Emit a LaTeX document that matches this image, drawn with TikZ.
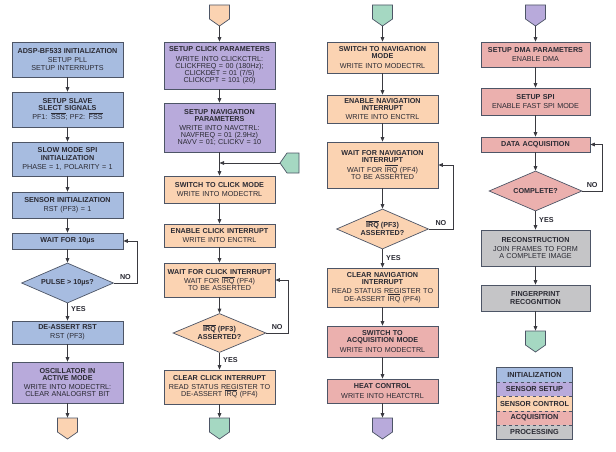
\documentclass[tikz,border=0pt]{standalone}
\usepackage{fontspec}
\setmainfont{Liberation Sans}
\usetikzlibrary{arrows.meta,positioning,shapes.geometric,shapes.symbols}
\definecolor{edge}{HTML}{4D5566}
\definecolor{ink}{HTML}{2A2A33}
\definecolor{wire}{HTML}{3A3A40}
\definecolor{iniC}{HTML}{A7BCE0}
\definecolor{setC}{HTML}{B8AADB}
\definecolor{ctlC}{HTML}{FBD3B2}
\definecolor{acqC}{HTML}{EBB0AE}
\definecolor{proC}{HTML}{C5C5C7}
\definecolor{conC}{HTML}{A5D8C2}
\newcommand{\ovl}[1]{\smash{$\overline{\mbox{#1}}$}}
\tikzset{
  box/.style={draw=edge, line width=0.7pt, minimum width=111pt, text width=107pt, align=center, inner sep=1pt, font=\fontsize{7.2}{7.2}\selectfont, text=ink},
  ini/.style={box, fill=iniC},
  setp/.style={box, fill=setC},
  ctl/.style={box, fill=ctlC},
  acq/.style={box, fill=acqC},
  pro/.style={box, fill=proC},
  dec/.style={diamond, aspect=2.3, draw=edge, line width=0.7pt, align=center, inner sep=0pt, font=\bfseries\fontsize{7.2}{7.6}\selectfont, text=ink},
  offpg/.style={signal, signal to=south, signal from=nowhere, signal pointer angle=110, draw=edge, line width=0.7pt, minimum width=20pt, minimum height=14pt, inner sep=0pt},
  offpgl/.style={signal, signal to=west, signal from=nowhere, signal pointer angle=110, draw=edge, line width=0.7pt, minimum width=19pt, minimum height=20pt, inner sep=0pt},
  arr/.style={-{Triangle[length=4.5pt,width=3.6pt]}, line width=0.8pt, draw=wire},
  lbl/.style={font=\bfseries\fontsize{7.2}{7}\selectfont, text=ink},
  legrow/.style={minimum width=75pt, minimum height=14.2pt, inner sep=0pt, font=\bfseries\fontsize{7.3}{7}\selectfont, text=ink},
}
\begin{document}
\begin{tikzpicture}[x=1pt,y=-1pt]
  \fill[white] (0,0) rectangle (616,452);
  \useasboundingbox (0,0) rectangle (616,452);

  % initialization
  \node[ini, minimum height=35pt] (adsp) at (67.5,59.5) {\textbf{ADSP-BF533 INITIALIZATION}\\[2pt]SETUP PLL\\SETUP INTERRUPTS};
  \node[ini, minimum height=35pt] (slave) at (67.5,109.5) {\textbf{SETUP SLAVE}\\\textbf{SLECT SIGNALS}\\[2pt]PF1: \ovl{SSS}; PF2: \ovl{FSS}};
  \node[ini, minimum height=34pt] (slow) at (67.5,159) {\textbf{SLOW MODE SPI}\\\textbf{INITIALIZATION}\\[2pt]PHASE = 1, POLARITY = 1};
  \node[ini, minimum height=26pt] (sens) at (67.5,205) {\textbf{SENSOR INITIALIZATION}\\[2pt]RST (PF3) = 1};
  \node[ini, minimum height=16pt] (wait1) at (67.5,241) {\textbf{WAIT FOR 10µs}};
  \node[dec, fill=iniC, minimum width=92pt, minimum height=40pt] (pulse) at (67.5,283) {PULSE > 10µs?};
  \node[ini, minimum height=23pt] (deas) at (67.5,332.5) {\textbf{DE-ASSERT RST}\\[2pt]RST (PF3)};
  \node[setp, minimum height=41pt] (osc) at (67.5,382.5) {\textbf{OSCILLATOR IN}\\\textbf{ACTIVE MODE}\\[2pt]WRITE INTO MODECTRL:\\CLEAR ANALOGRST BIT};
  \node[offpg, fill=ctlC] (c1out) at (67.5,425) {};
  \coordinate (r1) at (137,283);

  \draw[arr] (adsp) -- (slave);
  \draw[arr] (slave) -- (slow);
  \draw[arr] (slow) -- (sens);
  \draw[arr] (sens) -- (wait1);
  \draw[arr] (wait1) -- (pulse);
  \draw[arr] (pulse) -- node[lbl, right, pos=0.3]{YES} (deas);
  \draw[arr] (pulse.east) -- node[lbl, above]{NO} (r1) |- (wait1.east);
  \draw[arr] (deas) -- (osc);
  \draw[arr] (osc) -- (c1out);

  % sensor setup / click
  \node[offpg, fill=ctlC] (c2in) at (219.5,12) {};
  \node[setp, minimum height=47pt] (clk) at (219.5,65.5) {\textbf{SETUP CLICK PARAMETERS}\\[2pt]WRITE INTO CLICKCTRL:\\CLICKFREQ = 00 (180Hz);\\CLICKDET = 01 (7/5)\\CLICKCPT = 101 (20)};
  \node[setp, minimum height=49pt] (navp) at (219.5,127.5) {\textbf{SETUP NAVIGATION}\\\textbf{PARAMETERS}\\[2pt]WRITE INTO NAVCTRL:\\NAVFREQ = 01 (2.9Hz)\\NAVV = 01; CLICKV = 10};
  \node[offpgl, fill=conC] (c2ret) at (293,163) {};
  \node[ctl, minimum height=27pt] (swc) at (219.5,189.5) {\textbf{SWITCH TO CLICK MODE}\\[2pt]WRITE INTO MODECTRL};
  \node[ctl, minimum height=23pt] (enc) at (219.5,235.5) {\textbf{ENABLE CLICK INTERRUPT}\\[2pt]WRITE INTO ENCTRL};
  \node[ctl, minimum height=34pt] (wtc) at (219.5,280) {\textbf{WAIT FOR CLICK INTERRUPT}\\[2pt]WAIT FOR \ovl{IRQ} (PF4)\\TO BE ASSERTED};
  \node[dec, fill=ctlC, minimum width=93pt, minimum height=39pt] (irqc) at (219.5,333) {\ovl{IRQ} (PF3)\\ASSERTED?};
  \node[ctl, minimum height=34pt] (clc) at (219.5,387) {\textbf{CLEAR CLICK INTERRUPT}\\[2pt]READ STATUS REGISTER TO\\DE-ASSERT \ovl{IRQ} (PF4)};
  \node[offpg, fill=conC] (c2out) at (219.5,425) {};
  \coordinate (r2) at (288,333);

  \draw[arr] (c2in) -- (clk);
  \draw[arr] (clk) -- (navp);
  \draw[arr] (navp) -- (swc);
  \draw[arr] (c2ret.west) -- (c2ret.west -| navp.south);
  \draw[arr] (swc) -- (enc);
  \draw[arr] (enc) -- (wtc);
  \draw[arr] (wtc) -- (irqc);
  \draw[arr] (irqc) -- node[lbl, right, pos=0.4]{YES} (clc);
  \draw[arr] (irqc.east) -- node[lbl, above]{NO} (r2) |- (wtc.east);
  \draw[arr] (clc) -- (c2out);

  % navigation
  \node[offpg, fill=conC] (c3in) at (382.5,12) {};
  \node[ctl, minimum height=31pt] (swn) at (382.5,57.5) {\textbf{SWITCH TO NAVIGATION}\\\textbf{MODE}\\[2pt]WRITE INTO MODECTRL};
  \node[ctl, minimum height=28pt] (enn) at (382.5,109) {\textbf{ENABLE NAVIGATION}\\\textbf{INTERRUPT}\\[2pt]WRITE INTO ENCTRL};
  \node[ctl, minimum height=46pt] (wtn) at (382.5,165) {\textbf{WAIT FOR NAVIGATION}\\\textbf{INTERRUPT}\\[2pt]WAIT FOR \ovl{IRQ} (PF4)\\TO BE ASSERTED};
  \node[dec, fill=ctlC, minimum width=92pt, minimum height=40pt] (irqn) at (382.5,229) {\ovl{IRQ} (PF3)\\ASSERTED?};
  \node[ctl, minimum height=39pt] (cln) at (382.5,287.5) {\textbf{CLEAR NAVIGATION}\\\textbf{INTERRUPT}\\[2pt]READ STATUS REGISTER TO\\DE-ASSERT \ovl{IRQ} (PF4)};
  \node[acq, minimum height=31pt] (swa) at (382.5,341.5) {\textbf{SWITCH TO}\\\textbf{ACQUISITION MODE}\\[2pt]WRITE INTO MODECTRL};
  \node[acq, minimum height=24pt] (heat) at (382.5,391) {\textbf{HEAT CONTROL}\\[2pt]WRITE INTO HEATCTRL};
  \node[offpg, fill=setC] (c3out) at (382.5,425) {};
  \coordinate (r3) at (453,229);

  \draw[arr] (c3in) -- (swn);
  \draw[arr] (swn) -- (enn);
  \draw[arr] (enn) -- (wtn);
  \draw[arr] (wtn) -- (irqn);
  \draw[arr] (irqn) -- node[lbl, right, pos=0.45]{YES} (cln);
  \draw[arr] (irqn.east) -- node[lbl, above]{NO} (r3) |- (wtn.east);
  \draw[arr] (cln) -- (swa);
  \draw[arr] (swa) -- (heat);
  \draw[arr] (heat) -- (c3out);

  % acquisition and processing
  \node[offpg, fill=setC] (c4in) at (535.5,12) {};
  \node[acq, minimum width=109pt, minimum height=25pt] (dma) at (535.5,54.5) {\textbf{SETUP DMA PARAMETERS}\\[2pt]ENABLE DMA};
  \node[acq, minimum width=109pt, minimum height=27pt] (spi) at (535.5,101.5) {\textbf{SETUP SPI}\\[2pt]ENABLE FAST SPI MODE};
  \node[acq, minimum width=109pt, minimum height=15pt] (dacq) at (535.5,144.5) {\textbf{DATA ACQUISITION}};
  \node[dec, fill=acqC, minimum width=93pt, minimum height=40pt] (cmpl) at (535.5,191) {COMPLETE?};
  \node[pro, minimum width=109pt, minimum height=36pt] (rec) at (535.5,248) {\textbf{RECONSTRUCTION}\\[2pt]JOIN FRAMES TO FORM\\A COMPLETE IMAGE};
  \node[pro, minimum width=109pt, minimum height=26pt] (fpr) at (535.5,298) {\textbf{FINGERPRINT}\\\textbf{RECOGNITION}};
  \node[offpg, fill=conC] (c4out) at (535.5,338) {};
  \coordinate (r4) at (602,191);

  \draw[arr] (c4in) -- (dma);
  \draw[arr] (dma) -- (spi);
  \draw[arr] (spi) -- (dacq);
  \draw[arr] (dacq) -- (cmpl);
  \draw[arr] (cmpl) -- node[lbl, right, pos=0.45]{YES} (rec);
  \draw[arr] (cmpl.east) -- node[lbl, above]{NO} (r4) |- (dacq.east);
  \draw[arr] (rec) -- (fpr);
  \draw[arr] (fpr) -- (c4out);

  % legend
  \foreach \c/\t [count=\i] in {iniC/INITIALIZATION, setC/SENSOR SETUP, ctlC/SENSOR CONTROL, acqC/ACQUISITION, proC/PROCESSING}
    \node[legrow, fill=\c] (lg\i) at (534.5,{368+14.2*\i-7.1}) {\t};
  \foreach \i in {1,...,4}
    \draw[edge, dashed, line width=0.5pt] (lg\i.south west) -- (lg\i.south east);
  \draw[edge, line width=0.7pt] (lg1.north west) rectangle (lg5.south east);
\end{tikzpicture}
\end{document}
